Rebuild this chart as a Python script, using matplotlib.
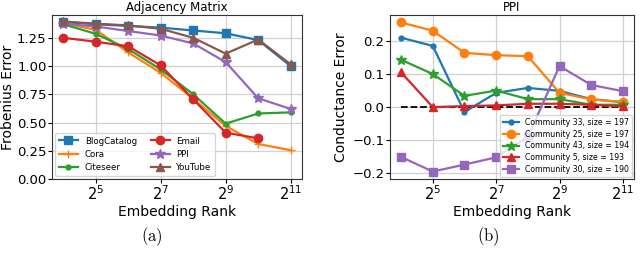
import matplotlib
matplotlib.use("Agg")
import matplotlib.pyplot as plt
import numpy as np

ranks = [16, 32, 64, 128, 256, 512, 1024, 2048]

# (a) Frobenius error per dataset
blogcatalog = [1.39, 1.37, 1.355, 1.34, 1.315, 1.29, 1.23, 1.00]
cora = [1.38, 1.32, 1.12, 0.94, 0.71, 0.47, 0.31, 0.255]
citeseer = [1.37, 1.285, 1.15, 0.97, 0.75, 0.49, 0.58, 0.59]
email = [1.25, 1.215, 1.175, 1.005, 0.705, 0.41, 0.36]
ppi = [1.375, 1.35, 1.31, 1.27, 1.20, 1.035, 0.715, 0.62]
youtube = [1.395, 1.375, 1.36, 1.33, 1.25, 1.11, 1.235, 1.015]

# (b) conductance error per community
comm33 = [0.21, 0.185, -0.015, 0.043, 0.058, 0.049, 0.024, 0.015]
comm25 = [0.256, 0.231, 0.164, 0.157, 0.154, 0.043, 0.023, 0.015]
comm43 = [0.143, 0.10, 0.034, 0.05, 0.024, 0.024, 0.007, 0.007]
comm5 = [0.105, 0.0, 0.003, 0.005, 0.01, 0.01, 0.007, 0.002]
comm30 = [-0.151, -0.195, -0.174, -0.152, -0.09, 0.124, 0.067, 0.048]

left_series = [
    ("BlogCatalog", blogcatalog, "s"),
    ("Cora", cora, "+"),
    ("Citeseer", citeseer, "."),
    ("Email", email, "o"),
    ("PPI", ppi, "*"),
    ("YouTube", youtube, "^"),
]
right_series = [
    ("Community 33, size = 197", comm33, "."),
    ("Community 25, size = 197", comm25, "o"),
    ("Community 43, size = 194", comm43, "*"),
    ("Community 5, size = 193", comm5, "^"),
    ("Community 30, size = 190", comm30, "s"),
]

fig = plt.figure(figsize=(6.4, 2.68), dpi=100)
ax1 = fig.add_axes([52/640, 89/268, 250/640, 164/268])
ax2 = fig.add_axes([390/640, 89/268, 244/640, 164/268])

colors = plt.rcParams['axes.prop_cycle'].by_key()['color']

for i, (name, vals, m) in enumerate(left_series):
    ax1.plot(ranks[:len(vals)], vals, marker=m, color=colors[i], lw=1.6,
             ms=6 if m not in ("*", ".") else 7, label=name)
ax1.set_ylim(bottom=0)
ax1.set_yticks([0, 0.25, 0.5, 0.75, 1.0, 1.25])
ax1.set_yticklabels(["0.00", "0.25", "0.50", "0.75", "1.00", "1.25"])
ax1.set_title("Adjacency Matrix", fontsize=8.5, pad=3)
ax1.set_ylabel("Frobenius Error", fontsize=10, labelpad=1)
ax1.legend(loc="lower left", ncol=2, fontsize=6.2, columnspacing=1.6,
           handlelength=2.2, borderaxespad=0.4)

ax2.plot([ranks[0], ranks[-1]], [0, 0], "k--", lw=1.3)
for i, (name, vals, m) in enumerate(right_series):
    ax2.plot(ranks, vals, marker=m, color=colors[i], lw=1.6,
             ms=6 if m not in ("*", ".") else 7, label=name)
ax2.set_yticks([-0.2, -0.1, 0.0, 0.1, 0.2])
ax2.set_title("PPI", fontsize=8.5, pad=3)
ax2.set_ylabel("Conductance Error", fontsize=10, labelpad=3)
ax2.legend(loc="lower right", fontsize=5.6, handlelength=2.0,
           borderaxespad=0.25, labelspacing=0.35)

for ax in (ax1, ax2):
    ax.set_xscale("log", base=2)
    ax.set_xticks([32, 128, 512, 2048])
    ax.set_xticklabels([r"$2^{5}$", r"$2^{7}$", r"$2^{9}$", r"$2^{11}$"])
    ax.minorticks_off()
    ax.tick_params(labelsize=9.5, length=3, pad=1)
    ax.tick_params(axis="x", labelsize=10.5)
    ax.set_xlabel("Embedding Rank", fontsize=10, labelpad=1)
    ax.grid(True, color="#d0d0d0", lw=0.9)
    ax.set_axisbelow(True)
    for s in ax.spines.values():
        s.set_color("#333333")

# subfigure captions in Computer Modern
fig.text(152/640, 1 - 237/268, r"$\mathrm{(a)}$", fontsize=12, ha="center",
         va="center", math_fontfamily="cm")
fig.text(488/640, 1 - 237/268, r"$\mathrm{(b)}$", fontsize=12, ha="center",
         va="center", math_fontfamily="cm")

fig.savefig("out.png", dpi=100)
